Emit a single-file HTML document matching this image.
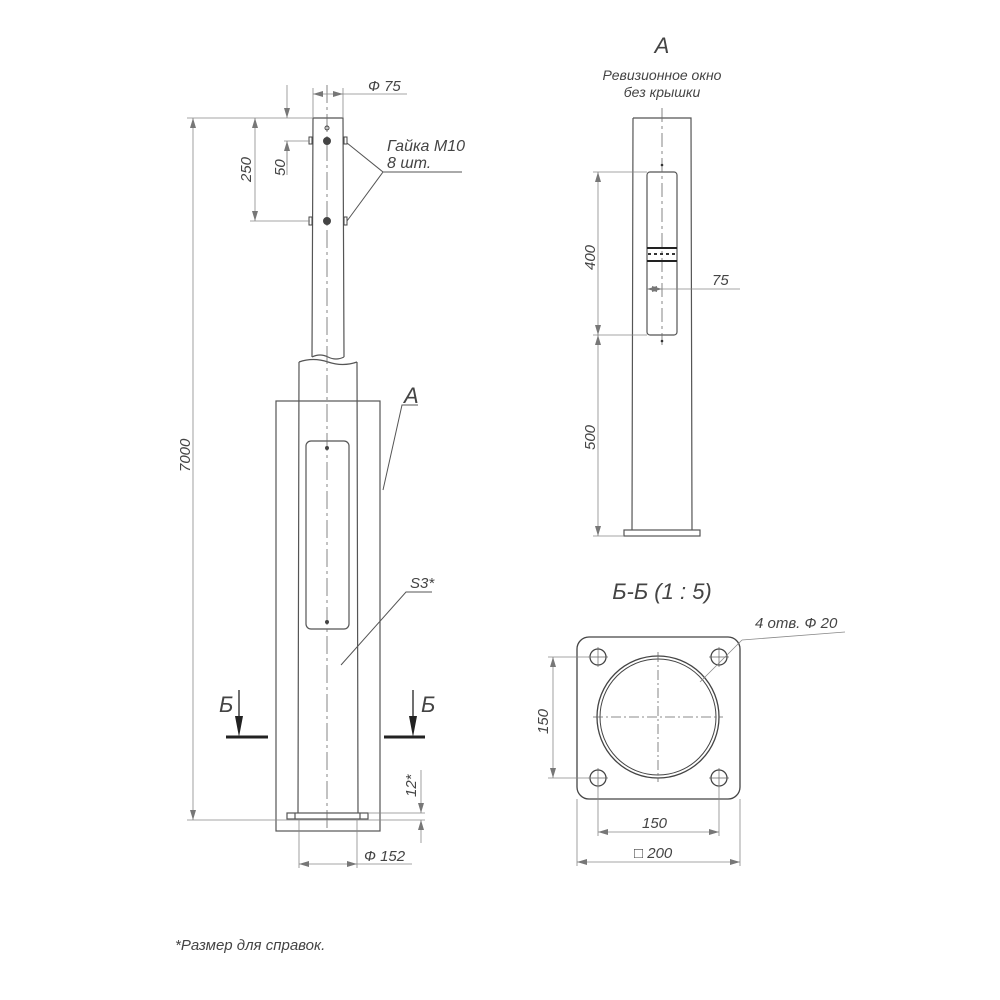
<!DOCTYPE html>
<html><head><meta charset="utf-8"><style>
html,body{margin:0;padding:0;background:#fff}
svg{display:block}
text{font-family:"Liberation Sans",sans-serif;font-style:italic;fill:#444}
</style></head><body>
<svg width="1000" height="1000" viewBox="0 0 1000 1000" xmlns="http://www.w3.org/2000/svg">
<defs>
<marker id="ar" viewBox="0 0 10 6" refX="10" refY="3" markerWidth="10" markerHeight="6" orient="auto-start-reverse" markerUnits="userSpaceOnUse"><path d="M0,0 L10,3 L0,6 z" fill="#777"/></marker>
</defs>
<g fill="none" stroke="#555" stroke-width="1.2">
<path d="M313,118 L343,118 L344,357 M313,118 L312,357"/>
<path d="M312,357 q8,-4 16,0 t16,0"/>
<path d="M299,362 q14,-5 29,0 t29,0 M299,362 L298,813 M357,362 L358,813"/>
<rect x="276" y="401" width="104" height="430"/>
<rect x="306" y="441" width="43" height="188" rx="5"/>
<rect x="287" y="813" width="81" height="6"/>
<line x1="295" y1="813" x2="295" y2="819"/><line x1="360" y1="813" x2="360" y2="819"/>
</g>
<line x1="327" y1="85" x2="327" y2="830" stroke="#666" stroke-width="0.8" stroke-dasharray="18,4,3,4"/>
<g fill="#444" stroke="#444" stroke-width="1">
<circle cx="327" cy="141" r="3.5"/><circle cx="327" cy="221" r="3.5"/>
<circle cx="327" cy="128" r="2" fill="none"/>
<rect x="309" y="137" width="3" height="7" fill="none"/><rect x="344" y="137" width="3" height="7" fill="none"/>
<rect x="309" y="217" width="3" height="8" fill="none"/><rect x="344" y="217" width="3" height="8" fill="none"/>
<circle cx="327" cy="448" r="1.5"/><circle cx="327" cy="622" r="1.5"/>
</g>
<g stroke="#888" stroke-width="0.8" fill="none">
<line x1="187" y1="118" x2="313" y2="118"/>
<line x1="187" y1="820" x2="425" y2="820"/>
<line x1="193" y1="118" x2="193" y2="820" marker-start="url(#ar)" marker-end="url(#ar)"/>
<line x1="255" y1="118" x2="255" y2="221" marker-start="url(#ar)" marker-end="url(#ar)"/>
<line x1="250" y1="221" x2="310" y2="221"/>
<line x1="284" y1="141" x2="310" y2="141"/>
<line x1="287" y1="85" x2="287" y2="118" marker-end="url(#ar)"/>
<line x1="287" y1="141" x2="287" y2="175"/>
<line x1="287" y1="165" x2="287" y2="141" marker-end="url(#ar)"/>
<line x1="313" y1="88" x2="313" y2="118"/><line x1="343" y1="88" x2="343" y2="118"/>
<line x1="313" y1="94" x2="343" y2="94" marker-start="url(#ar)" marker-end="url(#ar)"/>
<line x1="343" y1="94" x2="407" y2="94"/>
<line x1="299" y1="819" x2="299" y2="868"/><line x1="357" y1="819" x2="357" y2="868"/>
<line x1="299" y1="864" x2="357" y2="864" marker-start="url(#ar)" marker-end="url(#ar)"/>
<line x1="357" y1="864" x2="412" y2="864"/>
<line x1="368" y1="813" x2="425" y2="813"/>
<line x1="421" y1="770" x2="421" y2="813" marker-end="url(#ar)"/>
<line x1="421" y1="843" x2="421" y2="820" marker-end="url(#ar)"/>
</g>
<g stroke="#555" stroke-width="1" fill="none">
<path d="M347,143 L383,172 L347,221 M383,172 L462,172"/>
<path d="M383,490 L402,405 L418,405"/>
<path d="M341,665 L406,592 L432,592"/>
</g>
<g stroke="#222" stroke-width="3"><line x1="226" y1="737" x2="268" y2="737"/><line x1="384" y1="737" x2="425" y2="737"/></g>
<g stroke="#222" stroke-width="1.3"><line x1="239" y1="690" x2="239" y2="725"/><line x1="413" y1="690" x2="413" y2="725"/></g>
<path d="M235,716 L239,737 L243,716 z M409,716 L413,737 L417,716 z" fill="#222"/>
<g font-size="15">
<text x="387" y="151" font-size="16" fill="#222">Гайка M10</text>
<text x="387" y="168" font-size="16" fill="#222">8 шт.</text>
<text x="368" y="91">Ф 75</text>
<text x="364" y="861">Ф 152</text>
<text x="410" y="588" fill="#222">S3*</text>
<text transform="translate(190,472) rotate(-90)">7000</text>
<text transform="translate(251,182) rotate(-90)">250</text>
<text transform="translate(285,176) rotate(-90)">50</text>
<text transform="translate(416,797) rotate(-90)">12*</text>
</g>
<text x="404" y="403" font-size="22" fill="#222">A</text>
<text x="219" y="712" font-size="22" fill="#222">Б</text>
<text x="421" y="712" font-size="22" fill="#222">Б</text>
<text x="662" y="53" font-size="22" text-anchor="middle" fill="#222">A</text>
<text x="662" y="80" font-size="14" text-anchor="middle" fill="#222">Ревизионное окно</text>
<text x="662" y="97" font-size="14" text-anchor="middle" fill="#222">без крышки</text>
<g fill="none" stroke="#555" stroke-width="1.2">
<path d="M633,118 L691,118 L692,530 M633,118 L632,530"/>
<rect x="624" y="530" width="76" height="6"/>
<rect x="647" y="172" width="30" height="163" rx="3"/>
</g>
<line x1="662" y1="108" x2="662" y2="345" stroke="#666" stroke-width="0.8" stroke-dasharray="14,4,3,4"/>
<g stroke="#222" stroke-width="2"><line x1="647" y1="248" x2="677" y2="248"/><line x1="647" y1="261" x2="677" y2="261"/></g>
<line x1="648" y1="254" x2="676" y2="254" stroke="#333" stroke-width="2" stroke-dasharray="3,3"/>
<g fill="#333"><circle cx="662" cy="165" r="1.3"/><circle cx="662" cy="341" r="1.3"/></g>
<g stroke="#888" stroke-width="0.8" fill="none">
<line x1="593" y1="172" x2="647" y2="172"/><line x1="593" y1="335" x2="647" y2="335"/>
<line x1="593" y1="536" x2="624" y2="536"/>
<line x1="598" y1="172" x2="598" y2="335" marker-start="url(#ar)" marker-end="url(#ar)"/>
<line x1="598" y1="335" x2="598" y2="536" marker-start="url(#ar)" marker-end="url(#ar)"/>
<line x1="647" y1="289" x2="662" y2="289" marker-start="url(#ar)" marker-end="url(#ar)"/>
<line x1="662" y1="289" x2="740" y2="289"/>
</g>
<g font-size="15">
<text x="712" y="285">75</text>
<text transform="translate(595,270) rotate(-90)">400</text>
<text transform="translate(595,450) rotate(-90)">500</text>
</g>
<text x="662" y="599" font-size="22" text-anchor="middle" fill="#222">Б-Б (1 : 5)</text>
<g fill="none" stroke="#444" stroke-width="1.3">
<rect x="577" y="637" width="163" height="162" rx="12"/>
<circle cx="658" cy="717" r="61"/><circle cx="658" cy="717" r="58" stroke-width="1"/>
<circle cx="598" cy="657" r="8"/><circle cx="719" cy="657" r="8"/>
<circle cx="598" cy="778" r="8"/><circle cx="719" cy="778" r="8"/>
</g>
<g stroke="#666" stroke-width="0.7">
<path d="M588,657 h20 M598,647 v20 M709,657 h20 M719,647 v20 M588,778 h20 M598,768 v20 M709,778 h20 M719,768 v20"/>
</g>
<g stroke="#666" stroke-width="0.8" stroke-dasharray="10,3,2,3">
<line x1="658" y1="652" x2="658" y2="782"/><line x1="593" y1="717" x2="723" y2="717"/>
</g>
<g stroke="#888" stroke-width="0.8" fill="none">
<line x1="548" y1="657" x2="598" y2="657"/><line x1="548" y1="778" x2="598" y2="778"/>
<line x1="553" y1="657" x2="553" y2="778" marker-start="url(#ar)" marker-end="url(#ar)"/>
<line x1="598" y1="778" x2="598" y2="836"/><line x1="719" y1="778" x2="719" y2="836"/>
<line x1="598" y1="832" x2="719" y2="832" marker-start="url(#ar)" marker-end="url(#ar)"/>
<line x1="577" y1="799" x2="577" y2="866"/><line x1="740" y1="799" x2="740" y2="866"/>
<line x1="577" y1="862" x2="740" y2="862" marker-start="url(#ar)" marker-end="url(#ar)"/>
<line x1="700" y1="682" x2="742" y2="640"/><line x1="742" y1="640" x2="845" y2="632"/>
</g>
<g font-size="15">
<text x="642" y="828">150</text>
<text x="634" y="858">□ 200</text>
<text x="755" y="628">4 отв. Ф 20</text>
<text transform="translate(548,734) rotate(-90)">150</text>
</g>
<text x="175" y="950" font-size="15" fill="#222">*Размер для справок.</text>
</svg>
</body></html>
